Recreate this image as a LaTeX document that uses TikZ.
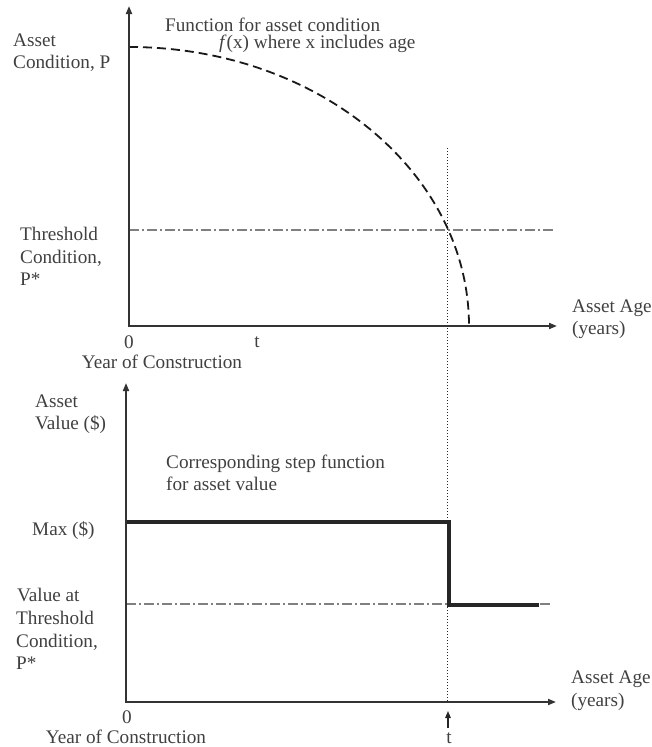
\documentclass[tikz,border=0pt]{standalone}
\usepackage{fontspec}
\setmainfont{Liberation Serif}
\usetikzlibrary{arrows.meta}
\begin{document}
\begin{tikzpicture}[x=1pt,y=-1pt,
  axis/.style={line width=1.8pt,draw=black!80,-{Triangle[length=8pt,width=6pt]}},
  curve/.style={line width=1.8pt,dash pattern=on 9pt off 5pt,draw=black!90},
  thresh/.style={line width=1.2pt,draw=black!50,dash pattern=on 10pt off 3pt on 2pt off 3pt},
  tline/.style={line width=1pt,dotted,draw=black!85},
  stepline/.style={line width=3.2pt,draw=black!85},
  lbl/.style={font=\fontsize{19.2}{22}\selectfont,text=black!75,inner sep=0pt,anchor=base west},
  lblc/.style={font=\fontsize{19.2}{22}\selectfont,text=black!75,inner sep=0pt,anchor=base}]
\useasboundingbox (0,0) rectangle (651,747);
% ---------- top graph ----------
\coordinate (O1) at (129,326);
\coordinate (Y1) at (129,6);
\coordinate (X1) at (557,326);
\coordinate (C0) at (129,47);
\coordinate (T1a) at (129,230);
\coordinate (T1b) at (554,230);
\coordinate (V1) at (447,148);
\coordinate (V2) at (447,702);
\draw[tline] (V1) -- (V2);
\draw[thresh] (T1a) -- (T1b);
\draw[curve] (C0) arc[start angle=-90,end angle=0,x radius=340,y radius=279];
\draw[axis] (O1) -- (Y1);
\draw[axis] ([xshift=-0.9pt]O1) -- (X1);
\node[lbl] (ac1) at (13,46) {Asset};
\node[lbl] (ac2) at (13,68) {Condition, P};
\node[lbl] (fn1) at (165,31) {Function for asset condition};
\node[lbl] (fn2) at (219,48) {\textit{f}(x) where x includes age};
\node[lbl] (th1) at (20,240) {Threshold};
\node[lbl] (th2) at (20,263) {Condition,};
\node[lbl] (th3) at (20,285) {P*};
\node[lblc] (z1) at (129,348) {0};
\node[lblc] (t1) at (257,347) {t};
\node[lblc] (yc1) at (162,368) {Year of Construction};
\node[lbl] (aa1) at (572,312) {Asset Age};
\node[lbl] (aa1b) at (572,334) {(years)};
% ---------- bottom graph ----------
\coordinate (O2) at (126,702);
\coordinate (Y2) at (126,383);
\coordinate (X2) at (556,702);
\coordinate (M0) at (126,522);
\coordinate (M1) at (449,522);
\coordinate (M2) at (449,605);
\coordinate (M3) at (539,605);
\coordinate (T2a) at (126,604);
\coordinate (T2b) at (552,604);
\coordinate (A1) at (448,728);
\coordinate (A2) at (448,711);
\draw[thresh] (T2a) -- (T2b);
\draw[stepline] (M0) -- (M1) -- (M2) -- (M3);
\draw[axis] (O2) -- (Y2);
\draw[axis] ([xshift=-0.9pt]O2) -- (X2);
\draw[line width=1.3pt,draw=black!85,-{Triangle[length=7pt,width=5.5pt]}] (A1) -- (A2);
\node[lbl] (av1) at (35,407) {Asset};
\node[lbl] (av2) at (35,429) {Value (\$)};
\node[lbl] (cs1) at (166,468) {Corresponding step function};
\node[lbl] (cs2) at (166,490) {for asset value};
\node[lbl] (mx) at (32,535) {Max (\$)};
\node[lbl] (vt1) at (17,601) {Value at};
\node[lbl] (vt2) at (16,624) {Threshold};
\node[lbl] (vt3) at (16,647) {Condition,};
\node[lbl] (vt4) at (16,669) {P*};
\node[lblc] (z2) at (127,723) {0};
\node[lblc] (t2) at (449,743) {t};
\node[lblc] (yc2) at (126,743) {Year of Construction};
\node[lbl] (aa2) at (571,683) {Asset Age};
\node[lbl] (aa2b) at (571,706) {(years)};
\end{tikzpicture}
\end{document}
